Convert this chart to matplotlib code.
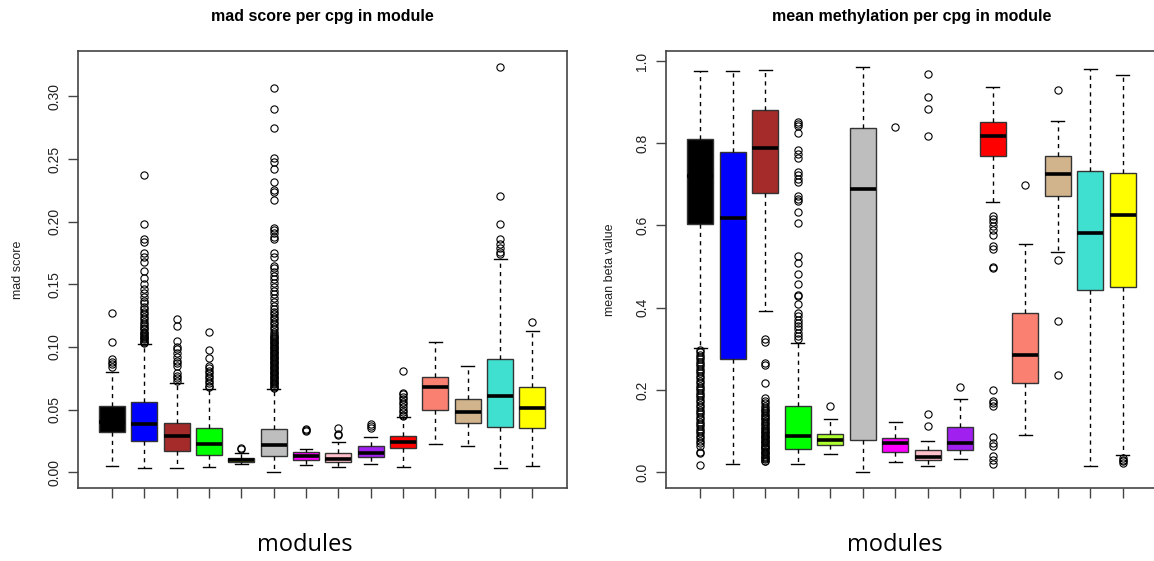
import matplotlib
matplotlib.use("Agg")
import matplotlib.pyplot as plt

# ---------------- data ----------------
modules = ["black", "blue", "brown", "green", "greenyellow", "grey", "magenta",
           "pink", "purple", "red", "salmon", "tan", "turquoise", "yellow"]
box_colors = ["#000000", "#0000FF", "#A52A2A", "#00FF00", "#ADFF2F", "#BEBEBE", "#FF00FF",
              "#FFC0CB", "#A020F0", "#FF0000", "#FA8072", "#D2B48C", "#40E0D0", "#FFFF00"]

# mad score panel: whisker low, q1, median, q3, whisker high
mad_whislo = [0.0048, 0.0035, 0.0035, 0.0043, 0.0067, 0.0000, 0.0059, 0.0040, 0.0067, 0.0043, 0.0227, 0.0211, 0.0032, 0.0048]
mad_q1     = [0.0318, 0.0251, 0.0171, 0.0139, 0.0082, 0.0131, 0.0094, 0.0078, 0.0120, 0.0190, 0.0500, 0.0390, 0.0358, 0.0356]
mad_med    = [0.0400, 0.0388, 0.0289, 0.0225, 0.0096, 0.0217, 0.0128, 0.0102, 0.0155, 0.0238, 0.0676, 0.0484, 0.0604, 0.0513]
mad_q3     = [0.0524, 0.0561, 0.0390, 0.0350, 0.0110, 0.0345, 0.0158, 0.0150, 0.0209, 0.0291, 0.0757, 0.0583, 0.0904, 0.0682]
mad_whishi = [0.0797, 0.1020, 0.0711, 0.0666, 0.0150, 0.0666, 0.0187, 0.0243, 0.0280, 0.0439, 0.1040, 0.0848, 0.1700, 0.1126]
mad_fliers = [
    [0.127, 0.104, 0.090, 0.088, 0.086, 0.084],
    [0.103, 0.104, 0.105, 0.106, 0.107, 0.108, 0.109, 0.110, 0.111, 0.112, 0.114, 0.115, 0.117,
     0.118, 0.120, 0.122, 0.124, 0.126, 0.128, 0.130, 0.132, 0.135, 0.137, 0.140, 0.143, 0.146,
     0.150, 0.155, 0.161, 0.168, 0.172, 0.175, 0.184, 0.186, 0.198, 0.2375],
    [0.1225, 0.1166, 0.105, 0.100, 0.098, 0.095, 0.092, 0.089, 0.087, 0.085, 0.079, 0.077, 0.075, 0.073],
    [0.1118, 0.0973, 0.0909, 0.085, 0.083, 0.081, 0.079, 0.077, 0.075, 0.073, 0.071, 0.069, 0.068],
    [0.0190, 0.0185],
    [0.067, 0.068, 0.069, 0.070, 0.071, 0.072, 0.073, 0.074, 0.075, 0.076, 0.077, 0.078, 0.079,
     0.080, 0.081, 0.082, 0.083, 0.084, 0.085, 0.086, 0.087, 0.088, 0.089, 0.090, 0.091, 0.092,
     0.093, 0.094, 0.095, 0.096, 0.097, 0.098, 0.099, 0.100, 0.101, 0.102, 0.103, 0.104, 0.105,
     0.106, 0.107, 0.108, 0.109, 0.110, 0.112, 0.114, 0.116, 0.118, 0.120, 0.122, 0.124, 0.126,
     0.128, 0.130, 0.133, 0.136, 0.139, 0.142, 0.145, 0.148, 0.151, 0.154, 0.157, 0.160, 0.163,
     0.165, 0.172, 0.175, 0.186, 0.188, 0.191, 0.193, 0.195, 0.217, 0.224, 0.225, 0.232, 0.242,
     0.248, 0.251, 0.275, 0.290, 0.307],
    [0.0345, 0.0335, 0.0332],
    [0.0350, 0.0305, 0.0294],
    [0.0385, 0.0372, 0.0353],
    [0.081, 0.063, 0.062, 0.060, 0.058, 0.056, 0.054, 0.052, 0.050, 0.048, 0.046, 0.045],
    [],
    [],
    [0.3234, 0.2207, 0.198, 0.186, 0.182, 0.179, 0.176, 0.174],
    [0.1198],
]

# mean methylation panel
beta_whislo = [0.303, 0.019, 0.391, 0.019, 0.045, 0.000, 0.024, 0.016, 0.031, 0.656, 0.090, 0.536, 0.014, 0.041]
beta_q1     = [0.604, 0.276, 0.680, 0.056, 0.065, 0.077, 0.050, 0.030, 0.053, 0.769, 0.216, 0.671, 0.444, 0.450]
beta_med    = [0.720, 0.618, 0.789, 0.088, 0.079, 0.688, 0.072, 0.037, 0.072, 0.817, 0.286, 0.725, 0.581, 0.626]
beta_q3     = [0.810, 0.779, 0.882, 0.160, 0.092, 0.836, 0.084, 0.053, 0.110, 0.852, 0.386, 0.768, 0.732, 0.728]
beta_whishi = [0.975, 0.976, 0.979, 0.315, 0.129, 0.985, 0.123, 0.075, 0.178, 0.937, 0.555, 0.855, 0.981, 0.967]
beta_fliers = [
    [0.297, 0.291, 0.286, 0.280, 0.274, 0.268, 0.262, 0.257, 0.251, 0.245, 0.240, 0.234, 0.228,
     0.222, 0.216, 0.210, 0.205, 0.199, 0.193, 0.188, 0.182, 0.176, 0.170, 0.164, 0.158, 0.152,
     0.147, 0.141, 0.135, 0.129, 0.123, 0.117, 0.112, 0.106, 0.100, 0.094, 0.088, 0.082, 0.076,
     0.070, 0.064, 0.050, 0.046, 0.018],
    [],
    [0.324, 0.317, 0.265, 0.261, 0.217, 0.180, 0.174, 0.168, 0.160, 0.156, 0.152, 0.148, 0.144,
     0.140, 0.136, 0.132, 0.128, 0.124, 0.120, 0.116, 0.112, 0.108, 0.104, 0.100, 0.097, 0.094,
     0.091, 0.088, 0.085, 0.082, 0.079, 0.076, 0.073, 0.070, 0.067, 0.064, 0.061, 0.058, 0.055,
     0.052, 0.049, 0.046, 0.043, 0.040, 0.037, 0.034, 0.031, 0.028, 0.026],
    [0.852, 0.847, 0.843, 0.826, 0.783, 0.774, 0.763, 0.731, 0.723, 0.714, 0.706, 0.671, 0.664,
     0.659, 0.633, 0.607, 0.525, 0.508, 0.482, 0.458, 0.432, 0.428, 0.408, 0.387, 0.379, 0.371,
     0.363, 0.355, 0.347, 0.339, 0.331, 0.323],
    [0.162],
    [],
    [0.839],
    [0.969, 0.912, 0.883, 0.817, 0.141, 0.111],
    [0.207],
    [0.624, 0.616, 0.608, 0.598, 0.589, 0.577, 0.549, 0.542, 0.499, 0.496, 0.200, 0.174, 0.168,
     0.160, 0.085, 0.072, 0.064, 0.040, 0.030, 0.020],
    [0.698],
    [0.929, 0.516, 0.368, 0.237],
    [],
    [0.034, 0.030, 0.026, 0.022],
]

titles = ["mad score per cpg in module", "mean methylation per cpg in module"]
ylabels = ["mad score", "mean beta value"]
xlabel = "modules"
mad_ticks = [0.00, 0.05, 0.10, 0.15, 0.20, 0.25, 0.30]
beta_ticks = [0.0, 0.2, 0.4, 0.6, 0.8, 1.0]

# ---------------- plotting ----------------
W, H = 1154, 561
fig = plt.figure(figsize=(W / 100, H / 100), dpi=100)
plt.rcParams["font.family"] = ["Liberation Sans", "DejaVu Sans"]

def px_rect(x0, y0, x1, y1):
    return [x0 / W, 1 - y1 / H, (x1 - x0) / W, (y1 - y0) / H]

ax1 = fig.add_axes(px_rect(77.7, 51, 566.7, 488.3))
ax2 = fig.add_axes(px_rect(665.7, 51, 1157.2, 488.3))

frame_col = "#444444"

def draw(ax, wlo, q1, med, q3, whi, fl, ticks, fmt):
    stats = []
    for i in range(len(modules)):
        stats.append(dict(whislo=wlo[i], q1=q1[i], med=med[i], q3=q3[i], whishi=whi[i],
                          fliers=fl[i], label=modules[i]))
    res = ax.bxp(stats, positions=range(1, len(modules) + 1), widths=0.8,
                 patch_artist=True, showfliers=True,
                 boxprops=dict(edgecolor="#333333", linewidth=1.0),
                 medianprops=dict(color="black", linewidth=2.6, solid_capstyle="butt"),
                 whiskerprops=dict(color="black", linewidth=1.0, linestyle=(0, (3, 3))),
                 capprops=dict(color="black", linewidth=1.0),
                 flierprops=dict(marker="o", markersize=5.2, markerfacecolor="none",
                                 markeredgecolor="black", markeredgewidth=0.8, linestyle="none"),
                 capwidths=0.4)
    for patch, c in zip(res["boxes"], box_colors):
        patch.set_facecolor(c)
    ymin = min(wlo + [min(f) for f in fl if f])
    ymax = max(whi + [max(f) for f in fl if f])
    r = ymax - ymin
    ax.set_ylim(ymin - 0.04 * r, ymax + 0.04 * r)
    ax.set_xlim(0.5 - 0.56, len(modules) + 0.5 + 0.56)
    ax.set_xticks(range(1, len(modules) + 1))
    ax.set_xticklabels([""] * len(modules))
    ax.set_yticks(ticks)
    ax.set_yticklabels([fmt.format(t) for t in ticks], rotation=90, va="center",
                       fontsize=10, color="#222222")
    ax.tick_params(axis="both", length=7, width=1.0, color=frame_col, direction="out", pad=5)
    for s in ax.spines.values():
        s.set_color(frame_col)
        s.set_linewidth(1.2)

draw(ax1, mad_whislo, mad_q1, mad_med, mad_q3, mad_whishi, mad_fliers, mad_ticks, "{:.2f}")
draw(ax2, beta_whislo, beta_q1, beta_med, beta_q3, beta_whishi, beta_fliers, beta_ticks, "{:.1f}")

# titles
fig.text(322 / W, 1 - 17 / H, titles[0], ha="center", va="center", fontsize=11.5, fontweight="bold")
fig.text(912 / W, 1 - 17 / H, titles[1], ha="center", va="center", fontsize=11.5, fontweight="bold")
# y labels
fig.text(18 / W, 1 - 270 / H, ylabels[0], ha="center", va="center", rotation=90, fontsize=9, color="#222222")
fig.text(610 / W, 1 - 270 / H, ylabels[1], ha="center", va="center", rotation=90, fontsize=9, color="#222222")
# x labels
fig.text(305 / W, 1 - 545 / H, xlabel, ha="center", va="center", fontsize=17,
         family=["Open Sans", "DejaVu Sans"])
fig.text(895 / W, 1 - 545 / H, xlabel, ha="center", va="center", fontsize=17,
         family=["Open Sans", "DejaVu Sans"])

fig.savefig("out.png", dpi=100)
